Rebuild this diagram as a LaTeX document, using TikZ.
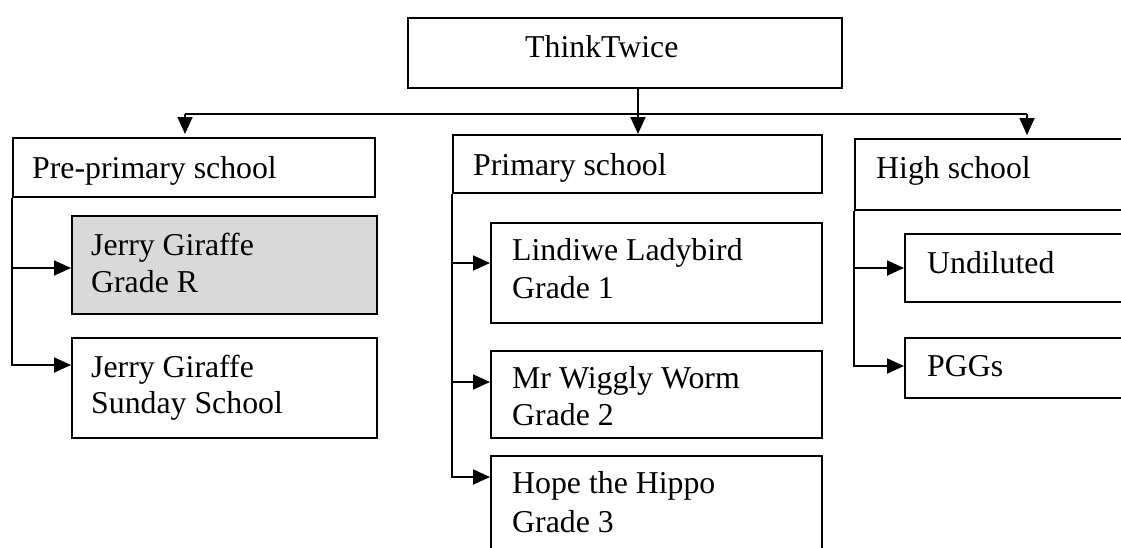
\documentclass[tikz,border=0pt]{standalone}
\usepackage{fontspec}
\setmainfont{Liberation Serif}
\usetikzlibrary{arrows.meta,calc}
\definecolor{boxgray}{HTML}{D9D9D9}
\begin{document}
\begin{tikzpicture}[x=1pt,y=-1pt,
  boxn/.style={draw,line width=1.8pt,rectangle,anchor=north west,inner sep=0pt},
  txt/.style={anchor=base west,inner sep=0pt,font=\fontsize{31.8}{37}\selectfont},
  conn/.style={line width=1.8pt},
  arr/.style={conn,-{Triangle[length=17pt,width=15pt]}}]
\useasboundingbox (0,0) rectangle (1121,547);
\clip (0,0) rectangle (1121,547);
% boxes
\node[boxn,minimum width=434pt,minimum height=70pt] (think) at (407,17) {};
\node[boxn,minimum width=362pt,minimum height=59pt] (pre) at (12,137) {};
\node[boxn,fill=boxgray,minimum width=305pt,minimum height=98pt] (jgr) at (71,215) {};
\node[boxn,minimum width=305pt,minimum height=100pt] (jss) at (71,337) {};
\node[boxn,minimum width=369pt,minimum height=58pt] (prim) at (452,134) {};
\node[boxn,minimum width=331pt,minimum height=100pt] (lind) at (490,222) {};
\node[boxn,minimum width=331pt,minimum height=87pt] (wig) at (490,350) {};
\node[boxn,minimum width=331pt,minimum height=100pt] (hope) at (490,455) {};
\node[boxn,minimum width=300pt,minimum height=71pt] (high) at (854,138) {};
\node[boxn,minimum width=250pt,minimum height=68pt] (und) at (904,233) {};
\node[boxn,minimum width=250pt,minimum height=60pt] (pgg) at (904,337) {};
% texts
\node[txt] (think-t) at (525,57) {ThinkTwice};
\node[txt] (pre-t) at (32,178) {Pre-primary school};
\node[txt] (jgr-t1) at (91,255) {Jerry Giraffe};
\node[txt] (jgr-t2) at (91,292) {Grade R};
\node[txt] (jss-t1) at (91,377) {Jerry Giraffe};
\node[txt] (jss-t2) at (91,413) {Sunday School};
\node[txt] (prim-t) at (473,175) {Primary school};
\node[txt] (lind-t1) at (512,260) {Lindiwe Ladybird};
\node[txt] (lind-t2) at (512,298) {Grade 1};
\node[txt] (wig-t1) at (512,388) {Mr Wiggly Worm};
\node[txt] (wig-t2) at (512,425) {Grade 2};
\node[txt] (hope-t1) at (512,493) {Hope the Hippo};
\node[txt] (hope-t2) at (512,532) {Grade 3};
\node[txt] (high-t) at (876,178) {High school};
\node[txt] (und-t) at (927,273) {Undiluted};
\node[txt] (pgg-t) at (927,376) {PGGs};
% connector points
\coordinate (hl) at (185,114);
\coordinate (hm) at (638,114);
\coordinate (hr) at (1027,114);
\coordinate (jgrA) at ($(jgr.north west)+(0,53)$);
\coordinate (jssA) at ($(jss.north west)+(0,28)$);
\coordinate (lindA) at ($(lind.north west)+(0,41)$);
\coordinate (wigA) at ($(wig.north west)+(0,32)$);
\coordinate (hopeA) at ($(hope.north west)+(0,22)$);
\coordinate (undA) at ($(und.north west)+(0,35)$);
\coordinate (pggA) at ($(pgg.north west)+(0,29)$);
% connectors
\draw[conn] (hl) -- (hr);
\draw[arr] (think.south -| hm) -- (prim.north -| hm);
\draw[arr,shorten >=3pt] (hl) -- (pre.north -| hl);
\draw[arr,shorten >=3pt] (hr) -- (high.north -| hr);
\draw[arr] (pre.south west) |- (jssA);
\draw[arr] (pre.south west |- jgrA) -- (jgrA);
\draw[arr] (prim.south west) |- (hopeA);
\draw[arr] (prim.south west |- lindA) -- (lindA);
\draw[arr] (prim.south west |- wigA) -- (wigA);
\draw[arr] (high.south west) |- (pggA);
\draw[arr] (high.south west |- undA) -- (undA);
\end{tikzpicture}
\end{document}
